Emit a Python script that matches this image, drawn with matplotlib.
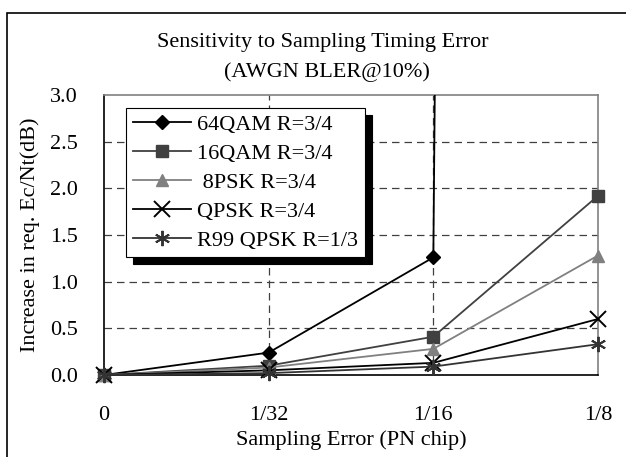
import matplotlib.pyplot as plt
from matplotlib.patches import Rectangle

plt.rcParams['font.family'] = ['Liberation Serif', 'DejaVu Serif']

x_labels = ['0', '1/32', '1/16', '1/8']
qam64 = [0.0, 0.24, 1.26, 200.0]
qam16 = [0.0, 0.10, 0.41, 1.92]
psk8 = [0.0, 0.08, 0.28, 1.28]
qpsk = [0.0, 0.05, 0.13, 0.60]
r99_qpsk = [0.0, 0.02, 0.09, 0.33]

fs = 16

fig = plt.figure(figsize=(6.26, 4.57), dpi=100)
# outer frame (cut off on right and bottom, like the source)
fig.patches.append(Rectangle((7 / 626, -0.1), 1.2, (457 - 13) / 457 + 0.1,
                             transform=fig.transFigure, fill=False,
                             edgecolor='black', linewidth=1.2))

ax = fig.add_axes([104 / 626, 82 / 457, 494 / 626, 280 / 457])
xs = range(len(x_labels))

# 64QAM runs off the top of the scale, so keep it clipped
ax.plot(xs, qam64, color='black', marker='D', markersize=7, lw=1.3,
        label='64QAM R=3/4', zorder=3)
ax.plot(xs, qam16, color='#404040', marker='s', markersize=8, lw=1.3,
        label='16QAM R=3/4', clip_on=False, zorder=4)
ax.plot(xs, psk8, color='#808080', marker='^', markersize=9, lw=1.3,
        label=' 8PSK R=3/4', clip_on=False, zorder=4)
ax.plot(xs, qpsk, color='black', marker='x', markersize=11, mew=1.4, lw=1.3,
        label='QPSK R=3/4', clip_on=False, zorder=4)
ax.plot(xs, r99_qpsk, color='#333333', marker=(6, 2, 0), markersize=11, mew=1.4, lw=1.3,
        label='R99 QPSK R=1/3', clip_on=False, zorder=4)

ax.set_xlim(0, 3)
ax.set_ylim(0, 3.0)
ax.set_xticks(list(xs))
ax.set_xticklabels(x_labels)
yt = [0, 0.5, 1.0, 1.5, 2.0, 2.5, 3.0]
ax.set_yticks(yt)
ax.set_yticklabels(['%.1f' % v for v in yt])
ax.tick_params(axis='both', labelsize=fs, length=0)
ax.tick_params(axis='x', pad=22)
ax.tick_params(axis='y', pad=19)

# dashed gridlines only inside the plot area, not on top of the border
for v in yt[1:-1]:
    ax.axhline(v, linestyle=(0, (6, 4)), color='#404040', linewidth=0.9, zorder=1)
for v in list(xs)[1:-1]:
    ax.axvline(v, linestyle=(0, (6, 4)), color='#404040', linewidth=0.9, zorder=1)

for s in ax.spines.values():
    s.set_color('#808080')
    s.set_linewidth(1.2)
ax.spines['left'].set_color('black')
ax.spines['bottom'].set_color('black')

ax.set_xlabel('Sampling Error (PN chip)', fontsize=fs, labelpad=4)
ax.set_ylabel('Increase in req. Ec/Nt(dB)', fontsize=fs, labelpad=7)
fig.text(0.516, (457 - 42) / 457, 'Sensitivity to Sampling Timing Error', fontsize=fs,
         ha='center', va='center')
fig.text(0.522, (457 - 72) / 457, '(AWGN BLER@10%)', fontsize=fs, ha='center', va='center')

leg = ax.legend(loc='upper left', bbox_to_anchor=(0.045, 0.955), fontsize=fs,
                fancybox=False, shadow={'color': 'black', 'alpha': 1, 'ox': 5, 'oy': -5},
                edgecolor='black', framealpha=1, handlelength=2.6,
                borderpad=0.3, labelspacing=0.38, handletextpad=0.3, borderaxespad=0)
leg.get_frame().set_linewidth(0.8)
leg.set_zorder(10)

fig.savefig('out.png', dpi=100)
